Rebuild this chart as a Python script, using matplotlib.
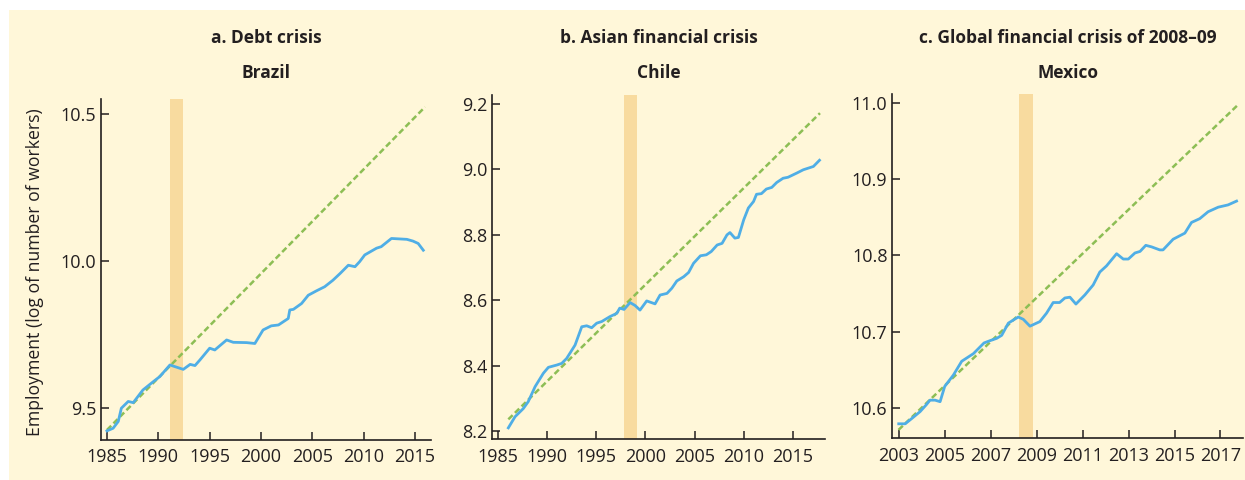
import matplotlib
matplotlib.use("Agg")
import matplotlib.pyplot as plt
from matplotlib.patches import Rectangle

plt.rcParams['font.family'] = ['Open Sans', 'DejaVu Sans']

# ---------------- data ----------------
panel_titles = ["a. Debt crisis", "b. Asian financial crisis", "c. Global financial crisis of 2008\u201309"]
countries = ["Brazil", "Chile", "Mexico"]
y_label = "Employment (log of number of workers)"

brazil_years = [1985.0, 1985.6, 1986.1, 1986.4, 1987.07, 1987.56, 1988.5, 1989.5, 1990.16, 1991.13,
                1992.43, 1993.1, 1993.57, 1994.05, 1995.0, 1995.5, 1996.65, 1997.3, 1998.6, 1999.4,
                2000.2, 2001.0, 2001.7, 2002.65, 2002.8, 2003.15, 2003.95, 2004.6, 2005.4, 2006.2,
                2007.0, 2007.7, 2008.5, 2009.15, 2009.6, 2010.1, 2011.25, 2011.7, 2012.7, 2014.2,
                2014.8, 2015.3, 2015.8]
brazil_emp = [9.423, 9.432, 9.455, 9.500, 9.523, 9.519, 9.562, 9.590, 9.608, 9.647,
              9.632, 9.649, 9.645, 9.664, 9.704, 9.698, 9.732, 9.724, 9.723, 9.720,
              9.766, 9.780, 9.783, 9.805, 9.834, 9.836, 9.856, 9.884, 9.899, 9.913,
              9.935, 9.958, 9.986, 9.981, 9.998, 10.021, 10.044, 10.049, 10.077, 10.074,
              10.068, 10.060, 10.037]
brazil_trend_years = [1985.0, 2015.97]
brazil_trend = [9.426, 10.524]
brazil_crisis = (1991.13, 1992.4)

chile_years = [1986.08, 1986.76, 1987.6, 1988.1, 1988.8, 1989.64, 1990.15, 1991.0, 1991.5, 1992.0,
               1992.86, 1993.54, 1994.04, 1994.55, 1995.06, 1995.57, 1996.4, 1997.1, 1997.4, 1997.84,
               1998.45, 1998.96, 1999.46, 2000.14, 2000.99, 2001.5, 2002.2, 2002.7, 2003.2, 2003.9,
               2004.4, 2004.9, 2005.6, 2006.2, 2006.7, 2007.3, 2007.8, 2008.3, 2008.6, 2009.1,
               2009.46, 2010.0, 2010.47, 2011.0, 2011.3, 2011.8, 2012.3, 2012.85, 2013.35, 2014.0,
               2014.5, 2015.4, 2016.06, 2017.08, 2017.7]
chile_emp = [8.210, 8.244, 8.269, 8.290, 8.336, 8.377, 8.395, 8.402, 8.407, 8.422,
             8.463, 8.519, 8.522, 8.516, 8.530, 8.535, 8.550, 8.560, 8.576, 8.572,
             8.593, 8.584, 8.570, 8.598, 8.589, 8.616, 8.621, 8.637, 8.659, 8.672,
             8.685, 8.713, 8.736, 8.739, 8.749, 8.769, 8.774, 8.800, 8.807, 8.790,
             8.792, 8.846, 8.882, 8.902, 8.924, 8.926, 8.940, 8.945, 8.960, 8.973,
             8.976, 8.989, 8.999, 9.009, 9.028]
chile_trend_years = [1986.08, 2017.75]
chile_trend = [8.236, 9.172]
chile_crisis = (1997.84, 1999.19)

mexico_years = [2003.0, 2003.28, 2003.57, 2003.93, 2004.2, 2004.36, 2004.58, 2004.8, 2005.0, 2005.38,
                2005.74, 2006.25, 2006.71, 2006.97, 2007.26, 2007.48, 2007.77, 2008.2, 2008.42, 2008.71,
                2009.14, 2009.43, 2009.72, 2010.0, 2010.23, 2010.45, 2010.71, 2011.1, 2011.46, 2011.75,
                2012.04, 2012.48, 2012.77, 2012.99, 2013.28, 2013.5, 2013.75, 2014.0, 2014.36, 2014.5,
                2014.94, 2015.45, 2015.74, 2016.1, 2016.46, 2016.9, 2017.33, 2017.7]
mexico_emp = [10.579, 10.579, 10.586, 10.595, 10.604, 10.610, 10.610, 10.608, 10.628, 10.643,
              10.661, 10.671, 10.685, 10.688, 10.691, 10.695, 10.711, 10.719, 10.716, 10.707,
              10.713, 10.724, 10.738, 10.738, 10.744, 10.745, 10.736, 10.748, 10.761, 10.778,
              10.786, 10.802, 10.795, 10.795, 10.803, 10.805, 10.813, 10.811, 10.807, 10.807,
              10.821, 10.829, 10.843, 10.848, 10.857, 10.863, 10.866, 10.871]
mexico_trend_years = [2002.99, 2017.72]
mexico_trend = [10.571, 10.996]
mexico_crisis = (2008.23, 2008.83)

brazil_xticks = [1985, 1990, 1995, 2000, 2005, 2010, 2015]
brazil_yticks = [9.5, 10.0, 10.5]
chile_xticks = [1985, 1990, 1995, 2000, 2005, 2010, 2015]
chile_yticks = [8.2, 8.4, 8.6, 8.8, 9.0, 9.2]
mexico_xticks = [2003, 2005, 2007, 2009, 2011, 2013, 2015, 2017]
mexico_yticks = [10.6, 10.7, 10.8, 10.9, 11.0]

# ---------------- style ----------------
BG = '#FFF7D9'
BLUE = '#4FAEE6'
GREEN = '#8DBE55'
SHADE = '#F8DB9F'
INK = '#231F20'

W, H = 1245, 480
fig = plt.figure(figsize=(W / 100, H / 100), dpi=100)
fig.patch.set_facecolor('white')
fig.patches.append(Rectangle((9 / W, 0), 1 - 9 / W, 1 - 10 / H, transform=fig.transFigure,
                             facecolor=BG, edgecolor='none', zorder=-10))

panels = [
    dict(box=(101, 99, 431, 440), xlim=(1984.42, 2016.55), ylim=(9.392, 10.551),
         yrs=brazil_years, emp=brazil_emp, tyrs=brazil_trend_years, tr=brazil_trend,
         crisis=brazil_crisis, xt=brazil_xticks, yt=brazil_yticks, yfmt='{:.1f}'),
    dict(box=(492.3, 95, 825, 439.3), xlim=(1984.45, 2018.26), ylim=(8.175, 9.2275),
         yrs=chile_years, emp=chile_emp, tyrs=chile_trend_years, tr=chile_trend,
         crisis=chile_crisis, xt=chile_xticks, yt=chile_yticks, yfmt='{:.1f}'),
    dict(box=(892.3, 94, 1243, 438.3), xlim=(2002.72, 2017.98), ylim=(10.560, 11.0114),
         yrs=mexico_years, emp=mexico_emp, tyrs=mexico_trend_years, tr=mexico_trend,
         crisis=mexico_crisis, xt=mexico_xticks, yt=mexico_yticks, yfmt='{:.1f}'),
]

for i, p in enumerate(panels):
    l, t, r, b = p['box']
    ax = fig.add_axes([l / W, 1 - b / H, (r - l) / W, (b - t) / H])
    ax.set_facecolor('none')
    ax.set_xlim(*p['xlim'])
    ax.set_ylim(*p['ylim'])
    ax.axvspan(p['crisis'][0], p['crisis'][1], color=SHADE, lw=0, zorder=1)
    ax.plot(p['tyrs'], p['tr'], color=GREEN, lw=1.8, ls=(0, (2.4, 1.3)), zorder=2)
    ax.plot(p['yrs'], p['emp'], color=BLUE, lw=2.0, zorder=3, solid_joinstyle='round')
    for s in ['top', 'right']:
        ax.spines[s].set_visible(False)
    for s in ['left', 'bottom']:
        ax.spines[s].set_color(INK)
        ax.spines[s].set_linewidth(1.2)
    ax.set_xticks(p['xt'])
    ax.set_xticklabels([str(v) for v in p['xt']])
    ax.set_yticks(p['yt'])
    ax.set_yticklabels([p['yfmt'].format(v) for v in p['yt']])
    ax.tick_params(direction='in', length=5.5, width=1.1, color=INK, labelcolor=INK,
                   labelsize=13, pad=3.5)
    ax.tick_params(axis='x', pad=6)
    cx = (l + r) / 2 / W
    fig.text(cx, 1 - 38 / H, panel_titles[i], ha='center', va='center', fontsize=12.5,
             fontweight='bold', color=INK)
    fig.text(cx, 1 - 73 / H, countries[i], ha='center', va='center', fontsize=12.5,
             fontweight='bold', color=INK)

fig.text(35 / W, 1 - 272 / H, y_label, rotation=90, ha='center', va='center',
         fontsize=12.7, color=INK)

fig.savefig('out.png', dpi=100, facecolor=fig.get_facecolor())
